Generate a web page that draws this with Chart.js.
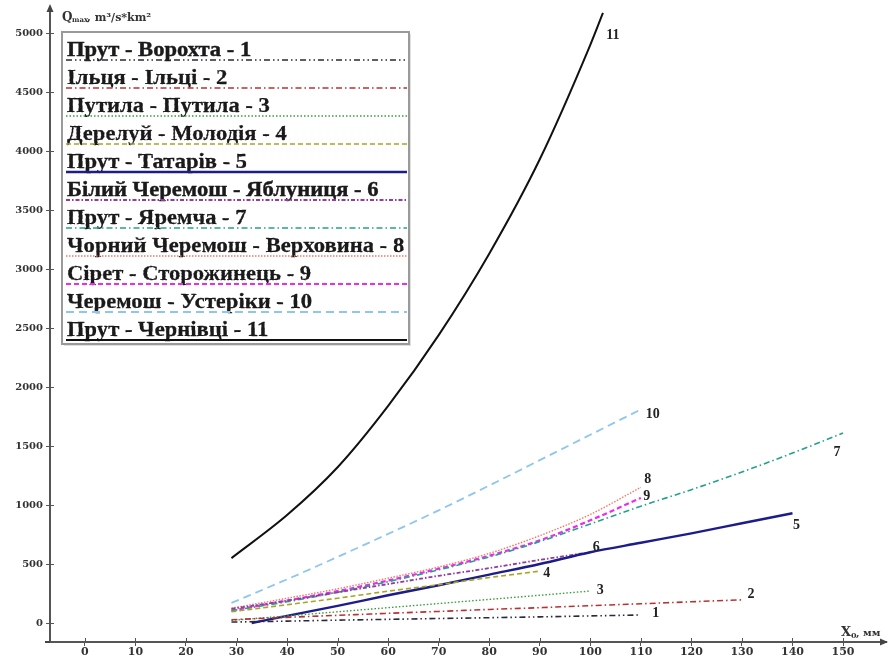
<!DOCTYPE html>
<html>
<head>
<meta charset="utf-8">
<script src="https://cdn.jsdelivr.net/npm/chart.js@4/dist/chart.umd.min.js"></script>
<style>
    html, body { margin: 0; padding: 0; background: #fff; }
    #chart { display: block; }
</style>
</head>
<body>
<canvas id="chart" width="888" height="661"></canvas>
<script>
// series names (legend order)
const names = [
    "Прут - Ворохта - 1",
    "Ільця - Ільці - 2",
    "Путила - Путила - 3",
    "Дерелуй - Молодія - 4",
    "Прут - Татарів - 5",
    "Білий Черемош - Яблуниця - 6",
    "Прут - Яремча - 7",
    "Чорний Черемош - Верховина - 8",
    "Сірет - Сторожинець - 9",
    "Черемош - Устеріки - 10",
    "Прут - Чернівці - 11"
];
const curveLabels = ["1", "2", "3", "4", "5", "6", "7", "8", "9", "10", "11"];

// X0, mm  /  Qmax values
const x1 = [29, 40, 50, 60, 70, 80, 90, 100, 110];
const q1 = [8, 16, 24, 31, 38, 45, 52, 60, 68];

const x2 = [29, 40, 50, 60, 70, 80, 90, 100, 110, 120, 130];
const q2 = [28, 48, 65, 82, 98, 115, 130, 147, 163, 180, 196];

const x3 = [29, 40, 50, 60, 70, 80, 90, 100];
const q3 = [22, 60, 95, 130, 165, 200, 235, 271];

const x4 = [29, 40, 50, 60, 70, 80, 90];
const q4 = [95, 155, 210, 270, 325, 385, 440];

const x5 = [33, 40, 50, 60, 70, 80, 90, 100, 110, 120, 130, 140];
const q5 = [0, 60, 145, 235, 320, 410, 500, 600, 680, 760, 845, 930];

const x6 = [29, 40, 50, 60, 70, 80, 90, 100];
const q6 = [120, 190, 260, 330, 400, 465, 535, 600];

const x7 = [29, 40, 50, 60, 70, 80, 90, 100, 110, 120, 130, 140, 150];
const q7 = [105, 180, 260, 350, 450, 560, 690, 840, 990, 1130, 1280, 1440, 1610];

const x8 = [29, 40, 50, 60, 70, 80, 90, 100, 110];
const q8 = [125, 210, 290, 380, 475, 590, 740, 920, 1150];

const x9 = [29, 40, 50, 60, 70, 80, 90, 100, 110];
const q9 = [105, 190, 270, 360, 460, 570, 700, 870, 1060];

const x10 = [29, 40, 50, 60, 70, 80, 90, 100, 110];
const q10 = [170, 370, 560, 755, 955, 1165, 1380, 1595, 1810];

const x11 = [29, 40, 50, 60, 70, 80, 90, 100, 102.5];
const q11 = [550, 915, 1320, 1840, 2440, 3130, 3930, 4900, 5170];

const xTicks = [0, 10, 20, 30, 40, 50, 60, 70, 80, 90, 100, 110, 120, 130, 140, 150];
const yTicks = [0, 500, 1000, 1500, 2000, 2500, 3000, 3500, 4000, 4500, 5000];

const xs = [x1, x2, x3, x4, x5, x6, x7, x8, x9, x10, x11];
const qs = [q1, q2, q3, q4, q5, q6, q7, q8, q9, q10, q11];

const colors = ["#2a2a3a", "#b83232", "#3a9e3a", "#a6a624", "#1c1c8a", "#943aa0",
    "#24a08e", "#f07a6a", "#ee2aee", "#90c6ec", "#111111"];
const dashes = [
    [6, 3, 1.5, 3, 1.5, 3],
    [6, 3, 1.5, 3],
    [1.5, 2],
    [5, 3],
    [],
    [4, 2, 1.5, 2],
    [6, 3, 1.5, 3],
    [1.5, 1.5],
    [5, 3],
    [8, 5],
    []
];
const widths = [1.6, 1.6, 1.4, 1.6, 2.4, 1.8, 1.6, 1.4, 2.2, 1.8, 2];
// where each curve number sits relative to the last point
const labelOffsets = [[15, -2], [9, -5], [10, -1], [7, 2], [4, 12], [6, -5],
    [-6, 19], [7, -8], [6, -2], [12, 5], [10, 22]];

const serif = "'Liberation Serif', 'Times New Roman', serif";
const wideSerif = "'DejaVu Serif', serif";

const datasets = names.map((name, i) => ({
    label: name,
    data: xs[i].map((x, j) => ({ x: x, y: qs[i][j] })),
    borderColor: colors[i],
    borderDash: dashes[i],
    borderWidth: widths[i],
    pointRadius: 0,
    fill: false,
    cubicInterpolationMode: "monotone"
}));

const decorations = {
    id: "decorations",
    afterDatasetsDraw(chart) {
        const ctx = chart.ctx;
        const area = chart.chartArea;

        // curve numbers
        ctx.save();
        ctx.font = "bold 14px " + serif;
        ctx.fillStyle = "#222";
        ctx.textAlign = "center";
        ctx.textBaseline = "middle";
        chart.data.datasets.forEach((ds, i) => {
            const meta = chart.getDatasetMeta(i);
            const last = meta.data[meta.data.length - 1];
            ctx.fillText(curveLabels[i], last.x + labelOffsets[i][0], last.y + labelOffsets[i][1]);
        });
        ctx.restore();

        // legend box
        const bx = 62, by = 32, bw = 347, bh = 312, row = 28;
        ctx.save();
        ctx.fillStyle = "rgba(0,0,0,0.12)";
        ctx.fillRect(bx + 2, by + 2, bw, bh);
        ctx.fillStyle = "#fff";
        ctx.fillRect(bx, by, bw, bh);
        ctx.strokeStyle = "#9a9a9a";
        ctx.lineWidth = 2;
        ctx.strokeRect(bx, by, bw, bh);
        chart.data.datasets.forEach((ds, i) => {
            const ly = by + 28 + i * row;
            ctx.save();
            ctx.translate(bx + 5, ly - 4);
            ctx.scale(1.13, 1);
            ctx.font = "bold 20px " + serif;
            ctx.fillStyle = "#1a1a1a";
            ctx.strokeStyle = "#1a1a1a";
            ctx.lineWidth = 0.4;
            ctx.textAlign = "left";
            ctx.textBaseline = "alphabetic";
            ctx.fillText(ds.label, 0, 0);
            ctx.strokeText(ds.label, 0, 0);
            ctx.restore();
            ctx.beginPath();
            ctx.setLineDash(ds.borderDash);
            ctx.strokeStyle = ds.borderColor;
            ctx.lineWidth = ds.borderWidth;
            ctx.moveTo(bx + 4, ly);
            ctx.lineTo(bx + bw - 2, ly);
            ctx.stroke();
        });
        ctx.restore();

        // axis arrows, inner tick marks and titles
        ctx.save();
        ctx.fillStyle = "#444";
        ctx.beginPath();
        ctx.moveTo(area.left, area.top - 6);
        ctx.lineTo(area.left - 3.5, area.top + 2);
        ctx.lineTo(area.left + 3.5, area.top + 2);
        ctx.fill();
        ctx.beginPath();
        ctx.moveTo(area.right + 2, area.bottom);
        ctx.lineTo(area.right - 6, area.bottom - 3.5);
        ctx.lineTo(area.right - 6, area.bottom + 3.5);
        ctx.fill();
        ctx.fillRect(area.left - 5, area.bottom - 1, 5, 2);

        ctx.strokeStyle = "#555";
        ctx.lineWidth = 1;
        ctx.beginPath();
        yTicks.forEach(v => {
            const py = Math.round(chart.scales.y.getPixelForValue(v)) + 0.5;
            ctx.moveTo(area.left, py);
            ctx.lineTo(area.left + 4, py);
        });
        xTicks.forEach(v => {
            const px = Math.round(chart.scales.x.getPixelForValue(v)) + 0.5;
            ctx.moveTo(px, area.bottom);
            ctx.lineTo(px, area.bottom - 4);
        });
        ctx.stroke();

        ctx.fillStyle = "#333";
        ctx.textBaseline = "alphabetic";
        ctx.textAlign = "left";
        ctx.font = "bold 12px " + wideSerif;
        ctx.fillText("Q", 62, 21);
        ctx.font = "bold 7px " + wideSerif;
        ctx.fillText("max", 72, 22);
        ctx.font = "bold 11px " + wideSerif;
        ctx.fillText(", m³/s*km²", 87, 21);

        ctx.font = "bold 13px " + wideSerif;
        ctx.fillText("X", 841, 636);
        ctx.font = "bold 8px " + wideSerif;
        ctx.fillText("0", 851, 638);
        ctx.font = "bold 10px " + wideSerif;
        ctx.fillText(", мм", 856, 636);
        ctx.restore();
    }
};

function drawChart() {
    new Chart(document.getElementById("chart"), {
        type: "line",
        data: { datasets: datasets },
        options: {
            responsive: false,
            animation: false,
            devicePixelRatio: 1,
            layout: { padding: { top: 10, right: 2, left: 0, bottom: 0 } },
            plugins: {
                legend: { display: false },
                tooltip: { enabled: false }
            },
            scales: {
                x: {
                    type: "linear",
                    min: -6.9,
                    max: 158.5,
                    afterFit: s => { s.height = 19; },
                    afterBuildTicks: s => { s.ticks = xTicks.map(v => ({ value: v })); },
                    grid: { drawOnChartArea: false, tickLength: 4, color: "#555", lineWidth: 1 },
                    border: { color: "#555", width: 2 },
                    ticks: {
                        padding: 0,
                        maxRotation: 0,
                        color: "#333",
                        callback: v => String(v),
                        font: { family: wideSerif, size: 11, weight: "bold" }
                    }
                },
                y: {
                    type: "linear",
                    min: -161,
                    max: 5195,
                    afterFit: s => { s.width = 50; },
                    afterBuildTicks: s => { s.ticks = yTicks.map(v => ({ value: v })); },
                    grid: { drawOnChartArea: false, tickLength: 4, color: "#555", lineWidth: 1 },
                    border: { color: "#555", width: 2 },
                    ticks: {
                        padding: 3,
                        color: "#333",
                        callback: v => String(v),
                        font: { family: wideSerif, size: 10, weight: "bold" }
                    }
                }
            }
        },
        plugins: [decorations]
    });
}

// make sure the installed fonts are ready before the canvas is painted
Promise.all([
    document.fonts.load("bold 20px 'Liberation Serif'"),
    document.fonts.load("bold 11px 'DejaVu Serif'")
]).then(drawChart, drawChart);
</script>
</body>
</html>
